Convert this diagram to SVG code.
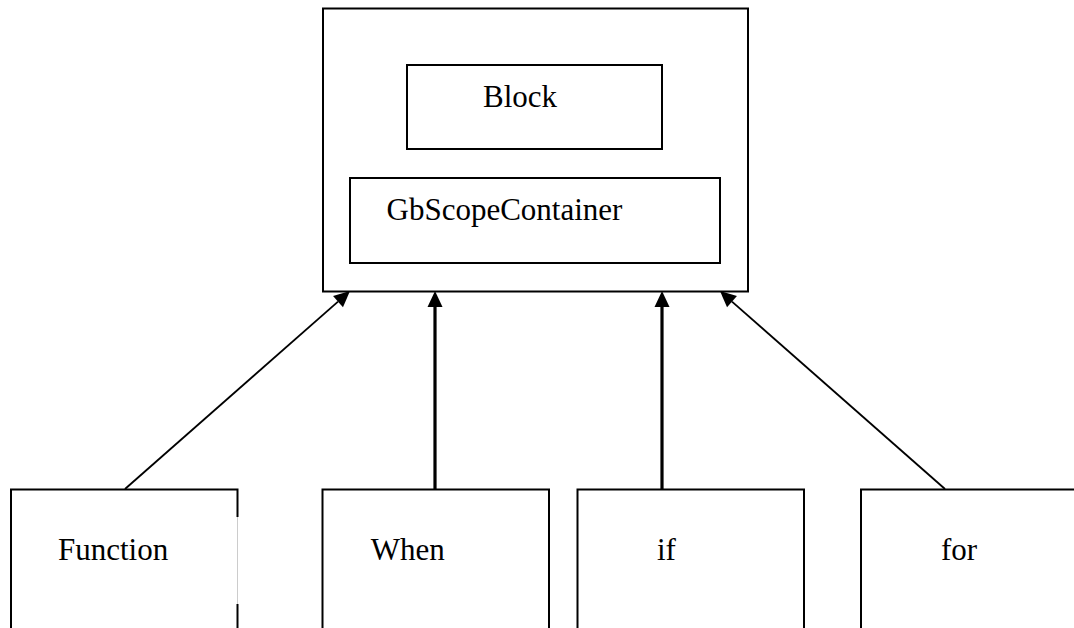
<svg xmlns="http://www.w3.org/2000/svg" width="1074" height="628" viewBox="0 0 1074 628">
<style>
.box{fill:#fff;stroke:#000;stroke-width:2}
.lbl{font-family:"Liberation Serif","Times New Roman",serif;font-size:31px;fill:#000}
.thick{stroke:#000;stroke-width:3.2;fill:none}
.thin{stroke:#000;stroke-width:1.8;fill:none}
</style>
<defs>
<marker id="ah" markerUnits="userSpaceOnUse" markerWidth="17" markerHeight="16" refX="0" refY="7.5" orient="auto" overflow="visible">
<path d="M0,0 L16,7.5 L0,15 z" fill="#000"/>
</marker>
</defs>
<rect width="1074" height="628" fill="#fff"/>
<g id="container">
<rect class="box" x="323" y="8.5" width="425" height="283"/>
</g>
<g id="block">
<rect class="box" x="407" y="65" width="255" height="84"/>
<text class="lbl" x="483" y="107">Block</text>
</g>
<g id="gbscope">
<rect class="box" x="350" y="178" width="370" height="85"/>
<text class="lbl" x="386.5" y="220">GbScopeContainer</text>
</g>
<g id="function">
<path d="M237.5,517 L237.5,489.5 L11,489.5 L11,640" fill="#fff" stroke="#000" stroke-width="2"/>
<line x1="237.5" y1="517" x2="237.5" y2="604" stroke="#ccc" stroke-width="1"/>
<line x1="237.5" y1="604" x2="237.5" y2="640" stroke="#000" stroke-width="2"/>
<text class="lbl" x="58" y="560">Function</text>
</g>
<g id="when">
<rect class="box" x="322.5" y="489.5" width="226.5" height="160"/>
<text class="lbl" x="370.7" y="560">When</text>
</g>
<g id="if">
<rect class="box" x="577.5" y="489.5" width="226.5" height="160"/>
<text class="lbl" x="657" y="560">if</text>
</g>
<g id="for">
<rect class="box" x="861" y="489.5" width="226" height="160"/>
<text class="lbl" x="941" y="560">for</text>
</g>
<g id="connectors">
<line class="thin" x1="125" y1="489" x2="338" y2="301.6" marker-end="url(#ah)"/>
<line class="thick" x1="435" y1="489" x2="435" y2="307" marker-end="url(#ah)"/>
<line class="thick" x1="662" y1="489" x2="662" y2="307" marker-end="url(#ah)"/>
<line class="thin" x1="945" y1="489" x2="732" y2="301.6" marker-end="url(#ah)"/>
</g>
</svg>
